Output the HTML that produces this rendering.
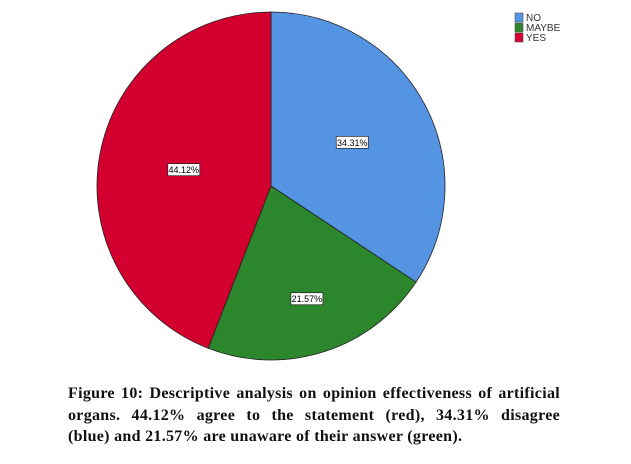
<!DOCTYPE html>
<html><head><meta charset="utf-8"><style>
body{margin:0;width:631px;height:464px;background:#fff;overflow:hidden;position:relative}
#cap{position:absolute;left:68px;top:383px;width:492px;font:bold 16px/21.5px "Liberation Serif",serif;color:#111;letter-spacing:0.3px}
#cap span{display:block;white-space:nowrap}
#cap .j{text-align:justify;text-align-last:justify;white-space:normal}
</style></head><body>
<svg id="chart" width="631" height="380" style="position:absolute;left:0;top:0"></svg>
<div id="cap"><span class="j">Figure 10: Descriptive analysis on opinion effectiveness of artificial</span><span class="j">organs. 44.12% agree to the statement (red), 34.31% disagree</span><span>(blue) and 21.57% are unaware of their answer (green).</span></div>
<script>
const categories=["NO","MAYBE","YES"];
const values=[34.31,21.57,44.12];
const labels=["34.31%","21.57%","44.12%"];
const colors=["#5494e3","#2b862c","#d3002f"];
const labelR=[0.53,0.68,0.51];
const svg=document.getElementById('chart');
const NS="http://www.w3.org/2000/svg";
const cx=271,cy=186,r=174;
const total=values.reduce((a,b)=>a+b,0);
function pt(f,rr){const a=f*2*Math.PI;return [cx+rr*Math.sin(a),cy-rr*Math.cos(a)];}
let acc=0;
values.forEach((v,i)=>{
  const f0=acc/total,f1=(acc+v)/total;acc+=v;
  const p0=pt(f0,r),p1=pt(f1,r);
  const p=document.createElementNS(NS,'path');
  p.setAttribute('d',`M${cx},${cy}L${p0[0]},${p0[1]}A${r},${r} 0 ${(f1-f0)>0.5?1:0} 1 ${p1[0]},${p1[1]}Z`);
  p.setAttribute('fill',colors[i]);p.setAttribute('stroke','#222');p.setAttribute('stroke-width','0.8');
  
  
  svg.appendChild(p);
  const lp=pt((f0+f1)/2,r*labelR[i]);
  const g=document.createElementNS(NS,'g');
  
  
  const rect=document.createElementNS(NS,'rect');
  rect.setAttribute('x',lp[0]-16);rect.setAttribute('y',lp[1]-6);rect.setAttribute('width',32);rect.setAttribute('height',12);
  rect.setAttribute('fill','#fff');rect.setAttribute('stroke','#222');rect.setAttribute('stroke-width','0.7');
  g.appendChild(rect);
  const t=document.createElementNS(NS,'text');
  t.setAttribute('x',lp[0]);t.setAttribute('y',lp[1]+3.5);t.setAttribute('text-anchor','middle');
  t.setAttribute('font-family','Liberation Sans, sans-serif');t.setAttribute('font-size','9');
  t.textContent=labels[i];g.appendChild(t);svg.appendChild(g);
});
categories.forEach((c,i)=>{
  const g=document.createElementNS(NS,'g');
  
  
  const y=17+i*10;
  const rect=document.createElementNS(NS,'rect');
  rect.setAttribute('x',515);rect.setAttribute('y',y-4);rect.setAttribute('width',8);rect.setAttribute('height',9);
  rect.setAttribute('fill',colors[i]);rect.setAttribute('stroke','#555');rect.setAttribute('stroke-width','0.6');
  g.appendChild(rect);
  const t=document.createElementNS(NS,'text');
  t.setAttribute('x',526);t.setAttribute('y',y+4);t.setAttribute('font-family','Liberation Sans, sans-serif');t.setAttribute('font-size','10');t.setAttribute('fill','#333');
  t.textContent=c;g.appendChild(t);svg.appendChild(g);
});
</script>
</body></html>
